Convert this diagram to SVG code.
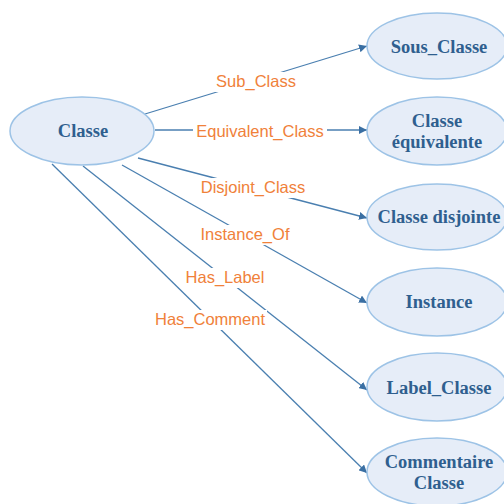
<svg xmlns="http://www.w3.org/2000/svg" width="504" height="504" viewBox="0 0 504 504">
<defs>
<marker id="arr" viewBox="0 0 10 10" refX="10" refY="5" markerWidth="8" markerHeight="8" markerUnits="userSpaceOnUse" orient="auto">
<path d="M0,0 L10,5 L0,10 z" fill="#3a6fa3"/>
</marker>
<style>
.node ellipse{fill:#e6edf8;stroke:#9dc3e6;stroke-width:1.5}
.node text{font-family:"Liberation Serif",serif;font-weight:bold;font-size:18.5px;fill:#2f5f8f;text-anchor:middle}
.edge{stroke:#4a7fb0;stroke-width:1.3;fill:none;marker-end:url(#arr)}
.bg{fill:#fff}
.lbl{font-family:"Liberation Sans","Open Sans",sans-serif;font-size:16.5px;fill:#f0813a;text-anchor:middle}
</style>
</defs>
<rect width="504" height="504" fill="#fff"/>
<g id="connectors">
<line class="edge" x1="145" y1="114" x2="367" y2="46"/>
<line class="edge" x1="155" y1="130" x2="367" y2="130"/>
<line class="edge" x1="138" y1="158" x2="367" y2="218"/>
<line class="edge" x1="122" y1="165" x2="367" y2="303"/>
<line class="edge" x1="83" y1="166" x2="367" y2="390"/>
<line class="edge" x1="52" y1="164" x2="367" y2="473"/>
<rect class="bg" x="215" y="72" width="82" height="20"/>
<rect class="bg" x="193" y="122" width="134" height="20"/>
<rect class="bg" x="198" y="178" width="110" height="20"/>
<rect class="bg" x="198" y="225" width="94" height="20"/>
<rect class="bg" x="183" y="268" width="84" height="20"/>
<rect class="bg" x="153" y="310" width="114" height="20"/>
<text class="lbl" x="256" y="87">Sub_Class</text>
<text class="lbl" x="260" y="137">Equivalent_Class</text>
<text class="lbl" x="253" y="193">Disjoint_Class</text>
<text class="lbl" x="245" y="240">Instance_Of</text>
<text class="lbl" x="225" y="283">Has_Label</text>
<text class="lbl" x="210" y="325">Has_Comment</text>
</g>
<g id="classe" class="node"><ellipse cx="82" cy="131" rx="72" ry="34"/><text x="83" y="137">Classe</text></g>
<g id="sous_classe" class="node"><ellipse cx="437" cy="46" rx="70" ry="33"/><text x="439" y="53">Sous_Classe</text></g>
<g id="classe_equivalente" class="node"><ellipse cx="437" cy="131" rx="70" ry="34"/><text x="437" y="127">Classe</text><text x="437" y="148">équivalente</text></g>
<g id="classe_disjointe" class="node"><ellipse cx="437" cy="217" rx="70" ry="33"/><text x="439" y="223">Classe disjointe</text></g>
<g id="instance" class="node"><ellipse cx="437" cy="302" rx="70" ry="34"/><text x="439" y="308">Instance</text></g>
<g id="label_classe" class="node"><ellipse cx="437" cy="387" rx="70" ry="34"/><text x="439" y="394">Label_Classe</text></g>
<g id="commentaire_classe" class="node"><ellipse cx="437" cy="472" rx="70" ry="34"/><text x="439" y="468">Commentaire</text><text x="439" y="489">Classe</text></g>
</svg>
